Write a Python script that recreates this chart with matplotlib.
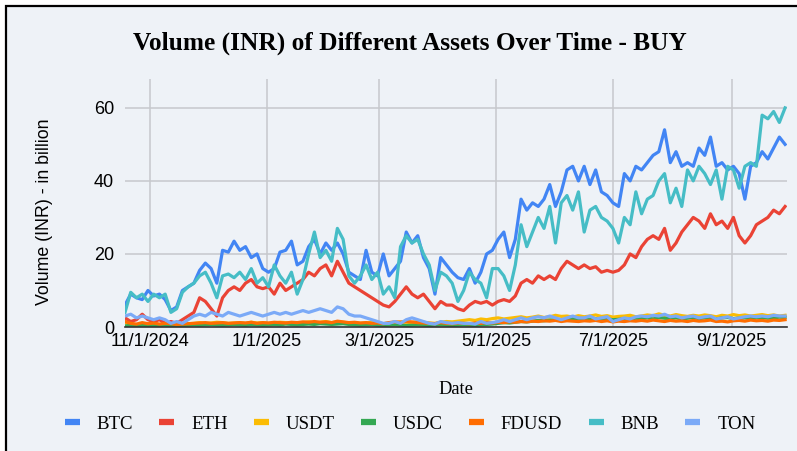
import numpy as np
import pandas as pd
import matplotlib
matplotlib.use("Agg")
import matplotlib.pyplot as plt
from matplotlib.lines import Line2D
from matplotlib.patches import Rectangle

dates = pd.date_range("2024-10-19", periods=116, freq="3D")

btc = [6, 9, 8, 7.5, 10, 8.5, 9, 7.5, 4.5, 5.5,
       10, 11, 12, 15.5, 17.5, 16, 12, 21, 20.5, 23.5,
       21, 22, 19, 20, 16, 15, 16, 20.5, 21, 23.5,
       17, 18, 22, 24, 20, 23, 21, 23, 20, 15,
       14, 13, 21, 15, 14, 20, 14, 16, 18, 26,
       23, 25, 19, 16, 9, 19, 17, 15, 13.5, 13,
       16, 12, 15, 20, 21, 24, 26, 19, 24, 35,
       32, 34, 33, 35, 39, 33, 37, 43, 44, 40,
       44, 39, 43, 37, 36, 34, 33, 42, 40, 44,
       43, 45, 47, 48, 54, 45, 48, 44, 45, 44,
       49, 47, 52, 44, 45, 43, 44, 42, 35, 44,
       45, 48, 46, 49, 52, 50]
eth = [2.5, 1.5, 2, 3.5, 2, 1.5, 2, 1, 1.5, 1,
       2, 3, 4, 8, 7, 5, 3, 8, 10, 11,
       10, 12, 13, 11, 10.5, 11, 9, 12, 10, 11,
       12, 13, 15, 14, 16, 17, 14, 18, 15, 12,
       11, 10, 9, 8, 7, 6, 5.5, 7, 9, 11,
       9, 8, 9, 7, 5, 7, 6, 6, 5, 4.5,
       6, 7, 6.5, 7, 6, 7, 7.5, 7, 8.5, 12,
       13, 12, 14, 13, 14, 13, 16, 18, 17, 16,
       17, 16, 16.5, 15, 15.5, 15, 15.5, 17, 20, 19,
       22, 24, 25, 24, 27, 21, 23, 26, 28, 30,
       29, 27, 31, 28, 29, 27, 30, 25, 23, 25,
       28, 29, 30, 32, 31, 33]
usdt = [1.2, 0.8, 0.6, 0.5, 0.7, 0.5, 0.6, 0.8, 0.5, 0.6,
        0.7, 0.9, 1.0, 1.2, 1.0, 1.1, 1.3, 1.2, 1.0, 1.1,
        1.2, 1.0, 1.3, 1.1, 1.2, 1.0, 1.1, 1.3, 1.2, 1.0,
        1.1, 1.2, 1.4, 1.2, 1.3, 1.5, 1.2, 1.4, 1.3, 1.1,
        1.2, 1.0, 1.1, 1.3, 1.0, 0.9, 1.1, 1.2, 1.4, 1.3,
        1.2, 1.5, 1.3, 1.1, 1.0, 1.3, 1.5, 1.4, 1.6, 1.8,
        2.0, 1.8, 2.2, 2.0, 2.3, 2.5, 2.2, 2.4, 2.6, 2.8,
        2.5, 2.7, 3.0, 2.6, 2.8, 3.2, 2.9, 3.0, 2.7, 3.1,
        2.8, 3.0, 3.3, 2.9, 3.1, 2.7, 2.9, 3.0, 3.2, 2.8,
        3.0, 3.3, 3.1, 3.6, 3.2, 3.0, 3.4, 3.1, 2.9, 3.2,
        3.0, 3.3, 3.1, 2.8, 3.2, 3.0, 3.4, 3.1, 3.3, 3.0,
        3.2, 3.4, 3.1, 3.3, 3.0, 3.2]
usdc = [0.3, 0.4, 0.3, 0.5, 0.4, 0.3, 0.4, 0.5, 0.3, 0.4,
        0.4, 0.5, 0.6, 0.5, 0.6, 0.7, 0.6, 0.5, 0.6, 0.7,
        0.6, 0.5, 0.7, 0.6, 0.5, 0.6, 0.7, 0.6, 0.8, 0.7,
        0.6, 0.7, 0.8, 0.7, 0.9, 0.8, 0.7, 0.8, 0.9, 0.7,
        0.6, 0.5, 0.6, 0.7, 0.5, 0.4, 0.5, 0.6, 0.5, 0.4,
        0.5, 0.6, 0.5, 0.4, 0.5, 0.6, 0.5, 0.4, 0.5, 0.6,
        0.5, 0.4, 0.6, 0.7, 0.8, 1.0, 1.2, 1.1, 1.3, 1.5,
        1.4, 1.6, 1.8, 1.7, 1.9, 2.0, 1.8, 2.0, 2.2, 1.9,
        2.1, 2.0, 2.3, 2.1, 2.2, 2.0, 2.1, 2.3, 2.2, 2.4,
        2.3, 2.5, 2.2, 2.6, 2.4, 2.3, 2.5, 2.2, 2.4, 2.6,
        2.3, 2.5, 2.4, 2.2, 2.5, 2.6, 2.3, 2.4, 2.5, 2.3,
        2.5, 2.6, 2.4, 2.5, 2.7, 2.6]
fdusd = [1.5, 1.0, 0.8, 1.2, 0.9, 1.1, 0.8, 1.0, 0.9, 0.7,
         0.8, 0.9, 1.0, 1.1, 1.2, 1.0, 1.1, 1.2, 1.0, 1.1,
         1.2, 1.1, 1.3, 1.0, 1.2, 1.1, 1.3, 1.2, 1.1, 1.3,
         1.2, 1.4, 1.3, 1.5, 1.3, 1.4, 1.2, 1.6, 1.4, 1.2,
         1.3, 1.1, 1.2, 1.0, 1.1, 0.9, 1.2, 1.4, 1.3, 1.5,
         1.4, 1.2, 1.1, 1.0, 0.9, 1.2, 1.0, 0.9, 1.1, 1.0,
         0.9, 1.1, 1.0, 1.2, 1.1, 1.3, 1.2, 1.4, 1.3, 1.5,
         1.4, 1.6, 1.5, 1.7, 1.6, 1.8, 1.5, 1.7, 1.6, 1.5,
         1.7, 1.6, 1.8, 1.5, 1.7, 1.4, 1.6, 1.5, 1.7, 1.6,
         1.8, 1.6, 1.9, 1.7, 1.5, 1.8, 1.6, 1.7, 1.5, 1.8,
         1.6, 1.7, 1.9, 1.5, 1.6, 1.4, 1.7, 1.8, 1.6, 1.9,
         1.7, 1.8, 1.6, 1.9, 1.8, 2.0]
bnb = [4, 9.5, 8, 9, 7, 9, 8, 9, 4, 5,
       9.5, 11, 12, 14, 15, 12, 8, 14, 14.5, 13.5,
       15, 13, 16, 12, 13.5, 11, 17, 14, 12, 15,
       9, 13, 20, 26, 19, 21, 18, 27, 24, 14,
       12, 14, 17, 13, 15, 9, 11, 8, 22, 25,
       23, 24, 20, 17, 10, 15, 14, 12, 7, 10,
       15, 13, 12, 8, 16, 16, 14, 10, 17, 28,
       22, 26, 30, 27, 33, 23, 34, 36, 32, 37,
       26, 32, 33, 30, 29, 27, 23, 30, 28, 37,
       31, 35, 36, 40, 42, 34, 38, 33, 43, 40,
       44, 42, 39, 43, 35, 44, 43, 38, 44, 45,
       44, 58, 57, 59, 56, 60]
ton = [3, 3.5, 2.5, 3, 2.5, 2, 2.5, 2, 1, 1.5,
       1, 2, 3, 3.5, 3, 4, 3.5, 3, 4, 3.5,
       3, 3.5, 4, 3.5, 3, 3.5, 4, 3.5, 4, 3.5,
       4, 4.5, 4, 4.5, 5, 4.5, 4, 5.5, 5, 3.5,
       3, 3, 2.5, 2, 1.5, 1, 1, 1.5, 1, 2,
       2.5, 2, 1.5, 1, 0.8, 1.5, 1.2, 1, 1.2, 1,
       1, 0.8, 1.5, 1, 1.2, 1.5, 2, 1.5, 2, 2.5,
       2, 2.5, 2.8, 2.5, 3, 2.5, 2, 2.5, 3, 2.5,
       2.5, 3, 2.2, 2.5, 2.8, 1.5, 2, 2.5, 2.2, 2.8,
       3, 2.8, 3.2, 3, 3.5, 2.8, 3, 2.5, 2.8, 3,
       2.5, 2.8, 3, 2.2, 2.5, 2.8, 2.2, 2.5, 2.8, 3,
       2.8, 3, 2.8, 3.2, 3, 3]

assets = ["BTC", "ETH", "USDT", "USDC", "FDUSD", "BNB", "TON"]
series = [btc, eth, usdt, usdc, fdusd, bnb, ton]
colors = ["#4285F4", "#EA4335", "#FBBC04", "#34A853", "#FF6D01", "#46BDC6", "#7BAAF7"]

tick_dates = pd.to_datetime(["2024-11-01", "2025-01-01", "2025-03-01",
                             "2025-05-01", "2025-07-01", "2025-09-01"])
tick_labels = ["11/1/2024", "1/1/2025", "3/1/2025", "5/1/2025", "7/1/2025", "9/1/2025"]

bg = "#eef2f7"
W, H = 797, 451
fig = plt.figure(figsize=(W / 100, H / 100), dpi=100, facecolor="white")
fig.patches.append(Rectangle((6 / W, -0.1), 1.2, 1 - 6 / H + 0.1, transform=fig.transFigure,
                             facecolor=bg, edgecolor="black", lw=1.6, zorder=-10))

ax = fig.add_axes([125 / W, 1 - 327 / H, (787 - 125) / W, (327 - 79) / H])
ax.set_facecolor(bg)

for name, vals, c in zip(assets, series, colors):
    ax.plot(dates, vals, color=c, lw=2.3, label=name, solid_joinstyle="round")

ax.set_xlim(pd.Timestamp("2024-10-19"), pd.Timestamp("2025-09-30"))
ax.set_ylim(0, 67.9)
ax.set_yticks([0, 20, 40, 60])
ax.set_xticks(tick_dates)
ax.set_xticklabels(tick_labels)
ax.grid(True, color="#c6c8cc", lw=1.1)
ax.set_axisbelow(True)
for s in ["top", "right", "left"]:
    ax.spines[s].set_visible(False)
ax.spines["bottom"].set_color("#333333")
ax.spines["bottom"].set_linewidth(1.2)
ax.spines["bottom"].set_zorder(5)
ax.tick_params(length=0, labelsize=13)
ax.tick_params(axis="x", pad=4)
ax.tick_params(axis="y", pad=8)
for lab in ax.get_xticklabels() + ax.get_yticklabels():
    lab.set_fontfamily("Liberation Sans")

fig.text(410 / W, 1 - 43 / H, "Volume (INR) of Different Assets Over Time - BUY",
         ha="center", va="center", fontsize=18.3, fontweight="bold", family="Liberation Serif")
fig.text(45 / W, 1 - 212 / H, "Volume (INR) - in billion", rotation=90,
         ha="center", va="center", fontsize=12.8, family="Liberation Sans")
fig.text(456 / W, 1 - 389 / H, "Date", ha="center", va="center",
         fontsize=13.3, family="Liberation Serif")

handles = [Line2D([0], [0], color=c, lw=4.5, solid_capstyle="butt") for c in colors]
fig.legend(handles, assets, loc="center", bbox_to_anchor=(410 / W, 1 - 424 / H), ncol=7,
           frameon=False, handlelength=0.8, handletextpad=0.9, columnspacing=1.4,
           prop={"family": "Liberation Serif", "size": 13.5})

fig.savefig("out.png", dpi=100, facecolor="white")
